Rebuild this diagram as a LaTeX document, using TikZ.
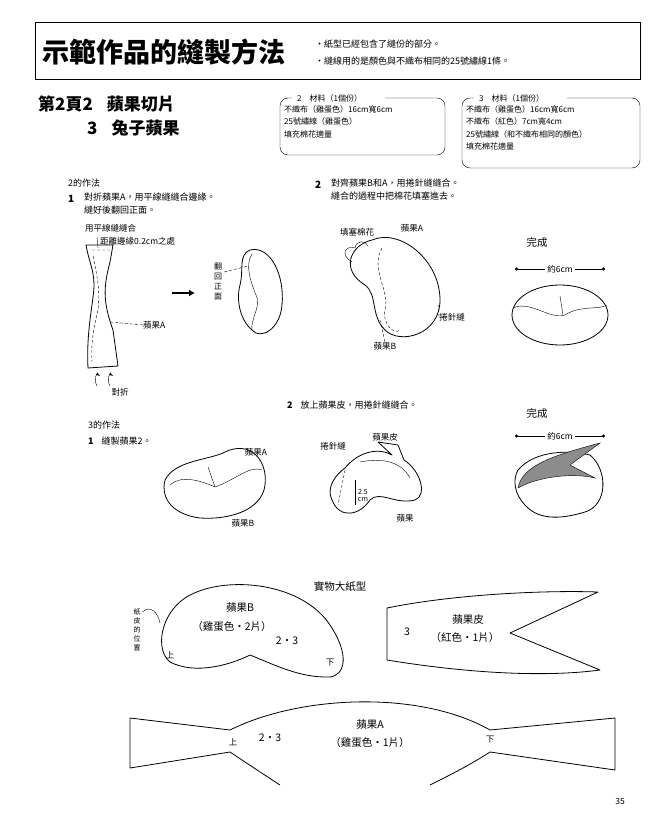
\documentclass[tikz,border=0pt]{standalone}
\usepackage{fontspec}
\setmainfont{Noto Sans CJK TC}
\usetikzlibrary{calc}
\usetikzlibrary{arrows.meta}
\tikzset{>=latex}
\colorlet{peelgray}{black!45}
\tikzset{
  txt/.style={anchor=west,inner sep=0pt,font=\fontsize{9}{13}\selectfont},
  hand/.style={inner sep=0pt,font=\fontsize{8.5}{10}\selectfont},
  big/.style={hand,font=\fontsize{10.5}{12}\selectfont},
  head/.style={anchor=west,inner sep=0pt,font=\fontsize{17}{19}\selectfont\bfseries},
  outline/.style={thick,line join=round},
  seam/.style={densely dashed,thin},
}

\begin{document}
\begin{tikzpicture}[x=1pt,y=-1pt]
  \useasboundingbox (0,0) rectangle (663,821);

    % TITLE
    \draw[thick] (35,22) rectangle (640,79);
    \node[anchor=west,inner sep=0pt,font=\fontsize{27}{29}\selectfont\bfseries] (title) at (42,52) {示範作品的縫製方法};
    \node[txt] (note1) at (315,44) {・紙型已經包含了縫份的部分。};
    \node[txt] (note2) at (315,61) {・縫線用的是顏色與不織布相同的25號繡線1條。};

    \node[head] (sub2) at (38,104) {第2頁2\hspace{14pt}蘋果切片};
    \node[head] (sub3) at (87,128) {3\hspace{14pt}兔子蘋果};

    % MATERIALS
    \draw[rounded corners=8pt] (292,98) -- (280,98) -- (280,155) -- (445,155) -- (445,98) -- (385,98);
    \node[txt,font=\fontsize{8}{9}\selectfont] (mat2) at (297,98) {2\hspace{8pt}材料（1個份）};
    \node[txt,font=\fontsize{8}{12.5}\selectfont,align=left,anchor=north west] (mat2list) at (284,105) {不織布（雞蛋色）16cm寬6cm\\25號繡線（雞蛋色）\\填充棉花適量};
    \draw[rounded corners=8pt] (474,98) -- (462,98) -- (462,168) -- (640,168) -- (640,98) -- (567,98);
    \node[txt,font=\fontsize{8}{9}\selectfont] (mat3) at (479,98) {3\hspace{8pt}材料（1個份）};
    \node[txt,font=\fontsize{8}{12.5}\selectfont,align=left,anchor=north west] (mat3list) at (466,105) {不織布（雞蛋色）16cm寬6cm\\不織布（紅色）7cm寬4cm\\25號繡線（和不織布相同的顏色）\\填充棉花適量};

    % METHOD 2
    \node[txt] (how2) at (68,183) {2的作法};
    \node[txt,font=\fontsize{10}{10}\selectfont\bfseries] (s1) at (68,199) {1};
    \node[txt,align=left,anchor=north west] (s1t) at (84,193) {對折蘋果A，用平線縫縫合邊緣。\\縫好後翻回正面。};
    \node[txt,font=\fontsize{10}{10}\selectfont\bfseries] (s2) at (315,185) {2};
    \node[txt,align=left,anchor=north west] (s2t) at (331,179) {對齊蘋果B和A，用捲針縫縫合。\\縫合的過程中把棉花填塞進去。};

    % folded piece A
    \draw[outline] (86,245) -- (113,245) -- (110,262) .. controls (104,285) and (102,300) .. (113,330) -- (118,366) -- (88,368) .. controls (86,330) and (94,300) .. (94,285) .. controls (94,270) and (89,262) .. (86,245);
    \draw[seam] (110,250) -- (92,250) (93,256) .. controls (98,280) and (100,290) .. (98,310) .. controls (93,330) and (91,345) .. (92,362);
    \node[hand,anchor=west] (lblsew) at (85,228) {用平線縫縫合};
    \node[hand,anchor=west] (lbldist) at (100,241) {距離邊緣0.2cm之處};
    \draw (lbldist.west) ++(-3,-4) -- (98,248);
    \node[hand,anchor=west] (lblA1) at (143,325) {蘋果A};
    \draw[seam] (lblA1.west) -- (110,322);
    \draw[->] (97,386) .. controls (93,378) and (97,374) .. (100,376);
    \draw[->] (110,386) .. controls (106,378) and (110,374) .. (113,376);
    \node[hand] (lblfold) at (120,392) {對折};
    \draw[-{Latex[length=6pt,width=7pt]},line width=2.5pt] (172,293) -- (195,293);
    \node[hand,align=center,font=\fontsize{8}{10}\selectfont] (lblturn) at (218,282) {翻\\回\\正\\面};
    % turned bean
    \draw[outline] (250,250) .. controls (270,245) and (285,275) .. (282,305) .. controls (280,330) and (260,340) .. (252,330) .. controls (240,320) and (236,300) .. (240,285) .. controls (244,270) and (238,255) .. (250,250);
    \draw (252,254) .. controls (245,265) and (250,280) .. (256,295) .. controls (262,305) and (250,320) .. (252,330);
    \draw[seam] (lblturn.east) ++(2,-10) -- (248,266);

    % stuffed bean
    \draw[outline] (372,240) .. controls (400,228) and (440,260) .. (440,300) .. controls (440,335) and (400,345) .. (385,330) .. controls (370,315) and (378,295) .. (365,285) .. controls (340,270) and (350,245) .. (372,240);
    \draw[seam] (382,248) .. controls (370,270) and (390,290) .. (385,310) .. controls (382,325) and (395,335) .. (400,330);
    \draw (352,262) .. controls (340,255) and (345,245) .. (355,248) .. controls (356,240) and (366,240) .. (368,246);
    \node[hand] (lblstuff) at (357,232) {填塞棉花};
    \node[hand] (lblA2) at (412,228) {蘋果A};
    \node[hand] (lblwhip1) at (452,317) {捲針縫};
    \node[hand] (lblB1) at (385,346) {蘋果B};
    \draw[seam] (lblB1.north) -- (380,320);
    \draw[seam] (lblwhip1.west) -- (438,305);

    % finished 2
    \node[big] (done1) at (537,242) {完成};
    \node[hand,fill=white,inner sep=2pt] (w1) at (560,269) {約6cm};
    \coordinate (w1l) at (515,269);
    \coordinate (w1r) at (605,269);
    \draw[{Circle[length=3pt]}-] (w1l) -- (w1.west);
    \draw[-{Circle[length=3pt]}] (w1.east) -- (w1r);
    \draw[outline] (560,315) ellipse (48 and 30);
    \draw (513,308) .. controls (530,300) and (550,320) .. (565,315) .. controls (580,305) and (600,310) .. (607,305);
    \draw (560,296) -- (563,315);

    % METHOD 3
    \node[txt] (s3b) at (287,405) {\textbf{2}\hspace{8pt}放上蘋果皮，用捲針縫縫合。};
    \node[txt] (how3) at (88,425) {3的作法};
    \node[txt] (s3a) at (88,441) {\textbf{1}\hspace{8pt}縫製蘋果2。};
    \draw[outline] (165,480) .. controls (175,460) and (210,460) .. (225,452) .. controls (250,440) and (268,460) .. (265,485) .. controls (262,510) and (230,520) .. (200,518) .. controls (175,515) and (160,500) .. (165,480);
    \draw (170,485) .. controls (180,475) and (200,480) .. (215,487) .. controls (235,480) and (250,465) .. (262,470);
    \draw (208,467) -- (215,487);
    \node[hand] (lblA3) at (256,452) {蘋果A};
    \node[hand] (lblB3) at (243,523) {蘋果B};

    \draw[outline] (345,468) .. controls (360,450) and (380,448) .. (392,455) -- (378,442) -- (398,445) -- (404,460) .. controls (420,470) and (428,495) .. (415,500) .. controls (395,505) and (380,490) .. (370,500) .. controls (360,515) and (340,520) .. (332,500) .. controls (326,488) and (335,475) .. (345,468);
    \draw (360,462) .. controls (380,458) and (400,460) .. (410,478);
    \draw[seam] (345,470) -- (338,505);
    \node[hand,align=center,font=\fontsize{7}{7}\selectfont] (lbl25) at (363,495) {2.5\\cm};
    \draw (355,480) -- (355,505);
    \node[hand] (lblwhip2) at (333,446) {捲針縫};
    \node[hand] (lblpeel) at (385,437) {蘋果皮};
    \node[hand] (lblapple) at (405,518) {蘋果};

    \node[big] (done2) at (537,413) {完成};
    \node[hand,fill=white,inner sep=2pt] (w2) at (560,436) {約6cm};
    \coordinate (w2l) at (515,436);
    \coordinate (w2r) at (605,436);
    \draw[{Circle[length=3pt]}-] (w2l) -- (w2.west);
    \draw[-{Circle[length=3pt]}] (w2.east) -- (w2r);
    \draw[outline] (518,470) .. controls (535,450) and (570,450) .. (590,455) .. controls (608,470) and (608,505) .. (585,512) .. controls (565,518) and (540,522) .. (525,505) .. controls (515,495) and (512,480) .. (518,470);
    \fill[peelgray,draw=black] (518,488) .. controls (522,465) and (555,455) .. (600,443) -- (570,465) -- (595,478) .. controls (570,472) and (535,478) .. (518,488);

    % PATTERNS
    \node[big] (fullsize) at (340,586) {實物大紙型};
    \draw[outline] (185,598) .. controls (220,575) and (300,580) .. (330,625) .. controls (350,655) and (345,675) .. (330,677) .. controls (300,678) and (275,665) .. (250,655) .. controls (230,665) and (195,675) .. (170,662) .. controls (155,650) and (160,615) .. (185,598);
    \node[big] (patB) at (240,608) {蘋果B};
    \node[big] (patBc) at (232,627) {（雞蛋色・2片）};
    \node[big] (patBn) at (287,641) {2・3};
    \node[hand] (patBup) at (170,655) {上};
    \node[hand] (patBdn) at (330,663) {下};
    \node[hand,align=center,font=\fontsize{7}{9}\selectfont] (patBpos) at (137,630) {紙\\皮\\的\\位\\置};
    \draw (patBpos.north east) ++(2,3) .. controls (150,605) and (158,612) .. (160,623);

    \draw[outline] (387,608) .. controls (450,595) and (540,590) .. (598,592) -- (510,633) -- (600,670) .. controls (540,678) and (460,672) .. (387,660) -- cycle;
    \node[big] (patPn) at (407,632) {3};
    \node[big] (patP) at (468,620) {蘋果皮};
    \node[big] (patPc) at (465,638) {（紅色・1片）};

    \draw[outline] (130,718) -- (230,730) .. controls (300,695) and (420,690) .. (490,730) -- (615,718) -- (615,770) -- (490,752) .. controls (470,765) and (450,775) .. (430,785);
    \draw[outline] (130,718) -- (130,768) -- (230,752) .. controls (245,762) and (260,772) .. (280,785);
    \node[big] (patA) at (370,725) {蘋果A};
    \node[big] (patAc) at (370,743) {（雞蛋色・1片）};
    \node[big] (patAn) at (270,738) {2・3};
    \node[hand] (patAup) at (233,742) {上};
    \node[hand] (patAdn) at (490,740) {下};

    \node[hand] (page) at (620,801) {35};
\end{tikzpicture}
\end{document}
